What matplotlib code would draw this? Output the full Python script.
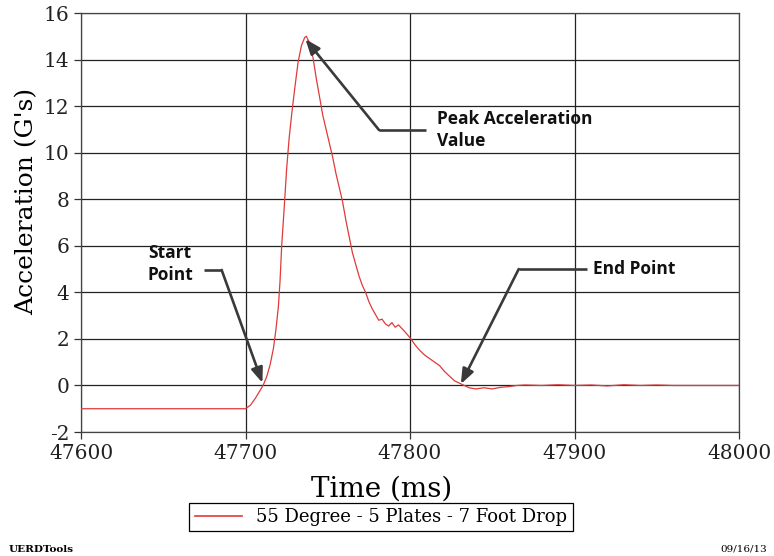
import numpy as np
import matplotlib
matplotlib.use("Agg")
import matplotlib.pyplot as plt
from matplotlib.lines import Line2D

plt.rcParams["axes.unicode_minus"] = False

# ── Data ───────────────────────────────────────────────────────────────────────
time_ms = [
    47600, 47700, 47703, 47706, 47709, 47711, 47713, 47715, 47717, 47718.5,
    47720, 47721, 47722, 47723.5, 47725, 47726.5, 47728, 47730, 47732, 47734,
    47736, 47737, 47739, 47741, 47743, 47745, 47747, 47749, 47751, 47753, 47755,
    47757, 47759, 47761, 47763, 47765, 47767, 47769, 47771, 47773, 47775,
    47777, 47779, 47781, 47783, 47785, 47787, 47789, 47791, 47793, 47795,
    47797, 47800, 47803, 47806, 47809, 47812, 47815, 47818, 47821, 47824,
    47827, 47830, 47833, 47836, 47840, 47845, 47850, 47855, 47860, 47865,
    47870, 47880, 47890, 47900, 47910, 47920, 47930, 47940, 47950, 47960,
    48000,
]
accel_g = [
    -1.0, -1.0, -0.85, -0.55, -0.2, 0.05, 0.4, 0.9, 1.6, 2.4,
    3.4, 4.5, 6.0, 7.6, 9.3, 10.6, 11.6, 12.8, 13.9, 14.6,
    14.95, 15.0, 14.7, 14.1, 13.2, 12.4, 11.6, 11.0, 10.4, 9.8, 9.1,
    8.5, 7.9, 7.1, 6.4, 5.7, 5.2, 4.7, 4.3, 4.0, 3.6,
    3.3, 3.05, 2.8, 2.85, 2.65, 2.55, 2.7, 2.5, 2.6, 2.45,
    2.3, 2.05, 1.75, 1.5, 1.3, 1.15, 1.0, 0.85, 0.6, 0.4,
    0.2, 0.1, 0.0, -0.1, -0.15, -0.1, -0.15, -0.08, -0.05, 0.0,
    0.02, 0.0, 0.03, 0.0, 0.02, -0.02, 0.03, 0.0, 0.02, 0.0,
    0.0,
]
series_label = "55 Degree - 5 Plates - 7 Foot Drop"

x_ticks = [47600, 47700, 47800, 47900, 48000]
y_ticks = list(range(-2, 17, 2))

# callouts: (text, text anchor, arrow start, elbow, tip)
callouts = [
    ("Peak Acceleration\nValue", (47816.4, 10.97), (47809.7, 10.97), (47781.2, 10.97), (47736.4, 14.88)),
    ("Start\nPoint", (47640.6, 5.22), (47674.5, 4.96), (47685.5, 4.96), (47710.3, 0.11)),
    ("End Point", (47911.5, 5.0), (47907.3, 5.0), (47866.1, 5.0), (47830.9, 0.06)),
]

SERIF = ["DejaVu Serif"]
ARROW = "#3a3a3a"

fig = plt.figure(figsize=(7.74, 5.56), dpi=100)
ax = fig.add_axes([81 / 774, 1 - 432 / 556, (739 - 81) / 774, (432 - 13) / 556])

ax.plot(time_ms, accel_g, color="#e03a3a", lw=0.9, zorder=3)

ax.set_xlim(47600, 48000)
ax.set_ylim(-2, 16)
ax.set_xticks(x_ticks)
ax.set_yticks(y_ticks)
ax.grid(True, color="#222222", lw=0.9)
ax.set_axisbelow(True)
for sp in ax.spines.values():
    sp.set_color("#444444")
    sp.set_linewidth(0.9)

ax.tick_params(direction="out", length=5, width=0.9, colors="#333333",
               labelcolor="#222222", labelsize=14.5)
for lab in ax.get_xticklabels() + ax.get_yticklabels():
    lab.set_family(SERIF)

ax.set_xlabel("Time (ms)", fontsize=20, family=SERIF)
ax.set_ylabel("Acceleration (G's)", fontsize=18, family=SERIF)
ax.xaxis.set_label_coords(0.457, -0.103)
ax.yaxis.set_label_coords(-0.065, 0.55)

# callout arrows
for text, txy, start, elbow, tip in callouts:
    ax.plot([start[0], elbow[0]], [start[1], elbow[1]], color=ARROW, lw=1.9,
            solid_capstyle="butt", zorder=4)
    ax.annotate("", xy=tip, xytext=elbow,
                arrowprops=dict(arrowstyle="-|>,head_length=0.9,head_width=0.35",
                                color=ARROW, lw=1.9, shrinkA=0, shrinkB=0),
                zorder=4)
    ax.text(txy[0], txy[1], text, fontsize=12.5, fontweight="bold",
            family=["Open Sans", "DejaVu Sans"], color="#111111",
            ha="left", va="center", linespacing=1.3, zorder=5)

handles = [Line2D([0], [0], color="#e03a3a", lw=1.2, label=series_label)]
leg = fig.legend(handles=handles, loc="center",
                 bbox_to_anchor=(381 / 774, 1 - 517 / 556),
                 prop={"family": SERIF, "size": 13}, frameon=True,
                 fancybox=False, edgecolor="black", framealpha=1,
                 handlelength=2.6, borderpad=0.3)
leg.get_frame().set_linewidth(0.9)

fig.text(9 / 774, 1 - 549 / 556, "UERDTools", fontsize=7.5, fontweight="bold",
         family=SERIF, va="center", ha="left")
fig.text(720 / 774, 1 - 549 / 556, "09/16/13", fontsize=7.5, family=SERIF,
         va="center", ha="left")

fig.savefig("out.png", dpi=100)
